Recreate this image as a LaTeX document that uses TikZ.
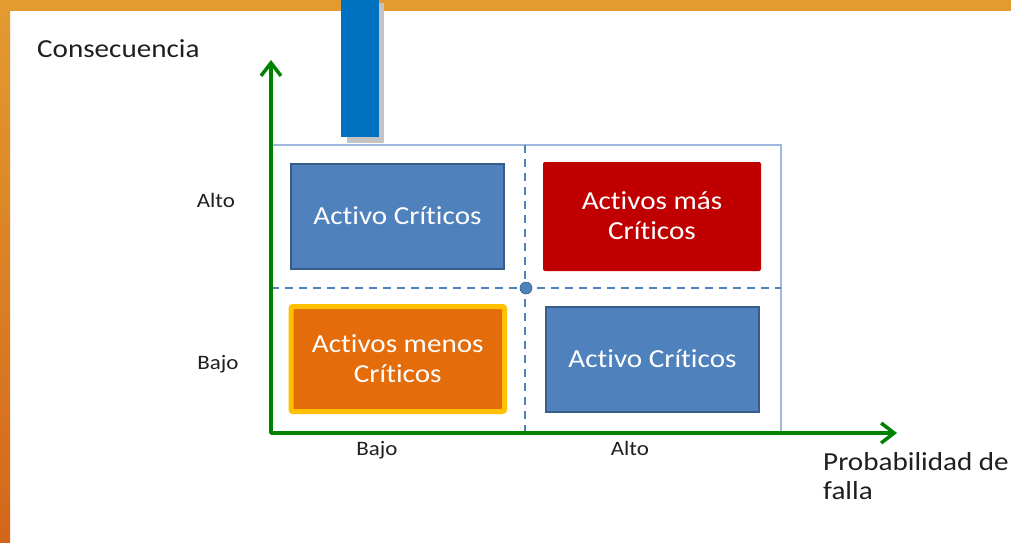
\documentclass[tikz,border=0pt]{standalone}
\usepackage{fontspec}
\setmainfont{Carlito}[FakeStretch=1.12, Ligatures=NoCommon]
\usetikzlibrary{arrows.meta}
\definecolor{frameor}{HTML}{E39B2F}
\definecolor{frameorb}{HTML}{D4661A}
\definecolor{barblue}{HTML}{0070C0}
\definecolor{shadowgray}{HTML}{C4C4C4}
\definecolor{boxblue}{HTML}{4F81BD}
\definecolor{boxblueline}{HTML}{385D8A}
\definecolor{boxred}{HTML}{C00000}
\definecolor{boxorange}{HTML}{E46C0A}
\definecolor{boxyellow}{HTML}{FFC000}
\definecolor{lightframe}{HTML}{9DB9DD}
\definecolor{axisgreen}{RGB}{0,130,0}
\definecolor{txt}{HTML}{1F1F1F}
\begin{document}
\begin{tikzpicture}[x=1pt,y=-1pt,
  boxtext/.style={font=\fontsize{26}{30}\selectfont, text=white, align=center, inner sep=0pt},
  bluebox/.style={boxtext, draw=boxblueline, fill=boxblue, line width=2pt},
  redbox/.style={boxtext, fill=boxred, rounded corners=2pt},
  orangebox/.style={boxtext, draw=boxyellow, fill=boxorange, line width=5pt, rounded corners=2pt},
  biglabel/.style={font=\fontsize{26}{29}\selectfont, text=txt, inner sep=0pt},
  smalllabel/.style={font=\fontsize{20.5}{24}\selectfont, text=txt, inner sep=0pt},
  axisline/.style={draw=axisgreen, line width=3.5pt, line join=round,
    arrows={Straight Barb[length=13pt,width=20pt]-Straight Barb[length=13pt,width=20pt]}},
  dashline/.style={draw=boxblue, line width=2.2pt, dash pattern=on 8pt off 6pt},
  dotstyle/.style={circle, fill=boxblue, draw=boxblueline, line width=0.6pt, minimum size=12pt, inner sep=0pt}
]
\useasboundingbox (0,0) rectangle (1011,542);
\fill[white] (0,0) rectangle (1011,542);
% orange frame
\shade[top color=frameor, bottom color=frameorb] (0,0) rectangle (10,542);
\fill[frameor] (0,0) rectangle (1011,11);
% blue bar with shadow
\fill[shadowgray] (347,3) rectangle (384,143);
\fill[barblue] (341,0) rectangle (379,137);
% light frame
\draw[lightframe, line width=1.6pt] (271,145) rectangle (781,433);
% dashed quadrant lines
\coordinate (vt) at (525,145);
\coordinate (vb) at (525,433);
\coordinate (hl) at (271,288);
\coordinate (hr) at (781,288);
\draw[dashline] (vt) -- (vb);
\draw[dashline] (hl) -- (hr);
\node[dotstyle] (mid) at (526,288) {};
% axes
\coordinate (ytip) at (271,60);
\coordinate (O) at (271,433);
\coordinate (xtip) at (897,433);
\draw[axisline] (ytip) -- (O) -- (xtip);
% boxes
\node[bluebox, minimum width=213pt, minimum height=105pt, text height=16pt, text depth=0pt] (tl) at (397.5,216.5) {Activo Críticos};
\node[redbox, minimum width=218pt, minimum height=109pt, text height=46pt, text depth=0pt] (tr) at (652,216.5) {Activos más\\Críticos};
\node[orangebox, minimum width=213.5pt, minimum height=105pt, text height=46pt, text depth=0pt] (bl) at (397.75,359) {Activos menos\\Críticos};
\node[bluebox, minimum width=213pt, minimum height=105pt, text height=16pt, text depth=0pt] (br) at (652.5,359.5) {Activo Críticos};
% labels
\node[biglabel, anchor=base west] (cons) at (37,57) {Consecuencia};
\node[smalllabel, anchor=base] (yalto) at (216,207) {Alto};
\node[smalllabel, anchor=base] (ybajo) at (218,369) {Bajo};
\node[smalllabel, anchor=base] (xbajo) at (377,455) {Bajo};
\node[smalllabel, anchor=base] (xalto) at (630,455) {Alto};
\node[biglabel, anchor=base west, align=left] (prob) at (823,499) {Probabilidad de\\falla};
\end{tikzpicture}
\end{document}
